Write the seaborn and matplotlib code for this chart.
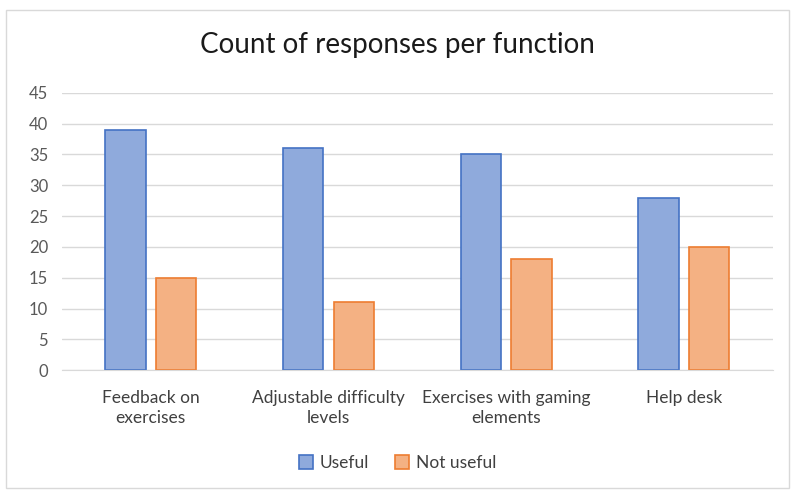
import pandas as pd
import seaborn as sns
import matplotlib.pyplot as plt
from matplotlib.patches import Rectangle, Patch

functions = ["Feedback on\nexercises", "Adjustable difficulty\nlevels",
             "Exercises with gaming\nelements", "Help desk"]
useful = [39, 36, 35, 28]
not_useful = [15, 11, 18, 20]
series = ["Useful", "Not useful"]

df = pd.DataFrame({
    "function": functions * 2,
    "count": useful + not_useful,
    "response": [series[0]] * 4 + [series[1]] * 4,
})

fills = {"Useful": "#8FAADC", "Not useful": "#F4B183"}
edges = {"Useful": "#4472C4", "Not useful": "#ED7D31"}

sns.set_style("white")
plt.rcParams["font.family"] = ["Lato", "DejaVu Sans"]

fig = plt.figure(figsize=(7.95, 4.91), dpi=100)
ax = fig.add_axes([0.078, 0.246, 0.894, 0.565])

sns.barplot(
    data=df,
    x="function",
    y="count",
    hue="response",
    palette=fills,
    saturation=1,
    width=0.57,
    gap=0.2,
    linewidth=1.2,
    legend=False,
    ax=ax,
)

for container, name in zip(ax.containers, series):
    for bar in container:
        bar.set_edgecolor(edges[name])

ax.set_ylim(0, 45)
ax.set_yticks(range(0, 46, 5))
ax.yaxis.grid(True, color="#D9D9D9", linewidth=1)
ax.set_axisbelow(True)
for s in ["top", "right", "left"]:
    ax.spines[s].set_visible(False)
ax.spines["bottom"].set_color("#D9D9D9")
ax.tick_params(axis="y", length=0, labelsize=12, colors="#595959", pad=10)
ax.tick_params(axis="x", length=0, pad=14, labelsize=12.5, colors="#404040")
for t in ax.get_xticklabels():
    t.set_linespacing(1.3)
ax.set_xlabel("")
ax.set_ylabel("")

fig.suptitle("Count of responses per function", y=0.935, fontsize=20, color="#1a1a1a")

handles = [Patch(facecolor=fills[n], edgecolor=edges[n], linewidth=1.2) for n in series]
fig.legend(handles, series, loc="center", bbox_to_anchor=(0.5, 0.057), ncol=2,
           frameon=False, fontsize=12.5, handlelength=0.8, handleheight=0.8,
           handletextpad=0.4, columnspacing=1.5, labelcolor="#404040")

fig.patches.append(Rectangle((0.008, 0.006), 0.985, 0.974, transform=fig.transFigure,
                             fill=False, edgecolor="#D9D9D9", linewidth=1))

fig.savefig("out.png", dpi=100)
